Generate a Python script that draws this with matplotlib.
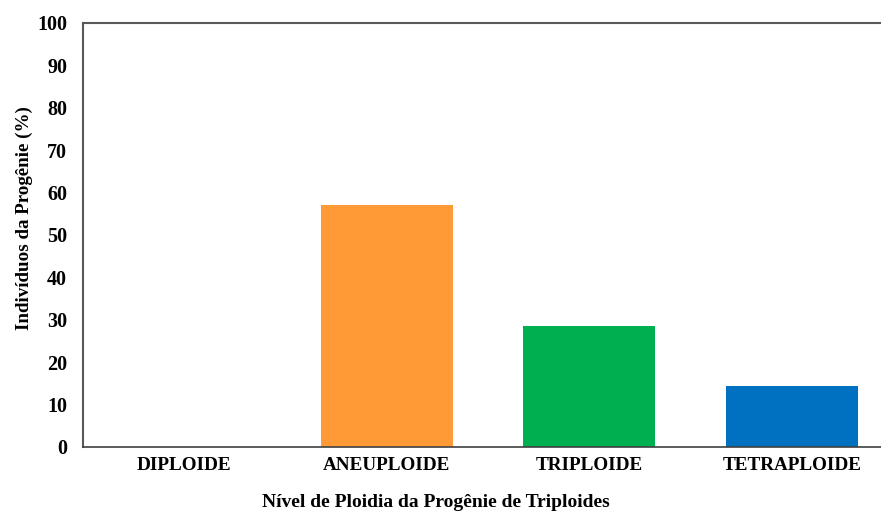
import numpy as np
import matplotlib.pyplot as plt
from matplotlib import rcParams as rcp

rcp['font.family'] = 'serif'
rcp['font.serif'] = ['Liberation Serif', 'DejaVu Serif']
rcp['font.weight'] = 'bold'

categories = ["DIPLOIDE", "ANEUPLOIDE", "TRIPLOIDE", "TETRAPLOIDE"]
percent = [0.0, 57.14, 28.57, 14.29]
colors = ["#5B9BD5", "#FF9A36", "#00B050", "#0070C0"]
yticks = list(range(0, 101, 10))

fig = plt.figure(figsize=(8.81, 5.14), dpi=100)
ax = fig.add_axes([0.0942, 0.1304, 0.9194, 0.825])

x = np.arange(len(categories))
ax.bar(x, percent, width=0.65, color=colors, zorder=2)

ax.set_xlim(-0.5, 3.5)
ax.set_ylim(0, 100)
ax.set_yticks(yticks)
ax.set_xticks(x)
ax.set_xticklabels(categories, fontsize=13.8, fontweight='bold')
ax.tick_params(axis='y', length=0, labelsize=14.5, pad=11.5)
ax.tick_params(axis='x', length=0, pad=7.5)
for lbl in ax.get_yticklabels():
    lbl.set_fontweight('bold')

for s in ['top', 'left']:
    ax.spines[s].set_color('#595959')
    ax.spines[s].set_linewidth(1.5)
ax.spines['bottom'].set_color('#404040')
ax.spines['bottom'].set_linewidth(1.2)
ax.spines['right'].set_visible(False)

ax.set_ylabel("Indivíduos da Progênie (%)", fontsize=13.7, fontweight='bold')
ax.set_xlabel("Nível de Ploidia da Progênie de Triploides", fontsize=14, fontweight='bold')
ax.yaxis.set_label_coords(-0.062, 0.54)
ax.xaxis.set_label_coords((436 - 83) / (893 - 83), -0.112)

fig.savefig("out.png", dpi=100)
